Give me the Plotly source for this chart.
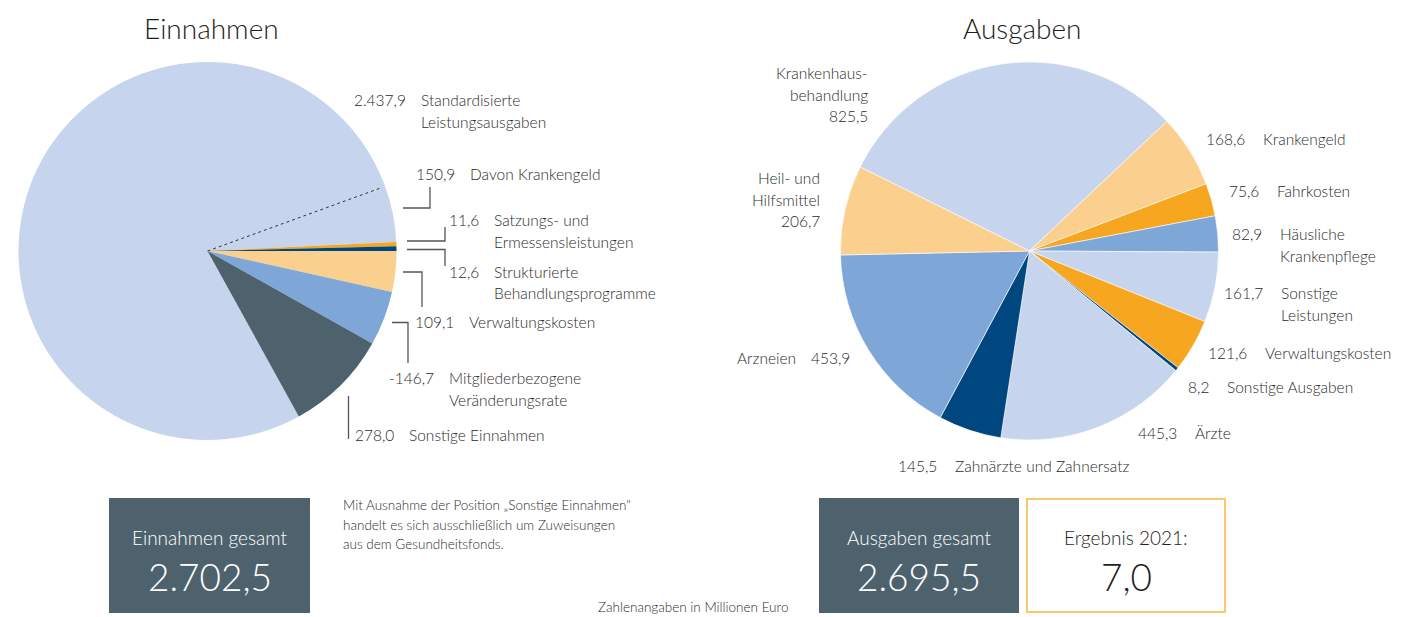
import math
import plotly.graph_objects as go

W, H = 1402, 617

# ---------------- data ----------------
ein_labels = ["Standardisierte\nLeistungsausgaben", "Davon Krankengeld",
              "Satzungs- und\nErmessensleistungen", "Strukturierte\nBehandlungsprogramme",
              "Verwaltungskosten", "Mitgliederbezogene\nVeränderungsrate", "Sonstige Einnahmen"]
ein_values = [2437.9, 150.9, 11.6, 12.6, 109.1, -146.7, 278.0]

aus_labels = ["Krankenhaus-\nbehandlung", "Krankengeld", "Fahrkosten", "Häusliche\nKrankenpflege",
              "Sonstige\nLeistungen", "Verwaltungskosten", "Sonstige Ausgaben", "Ärzte",
              "Zahnärzte und Zahnersatz", "Arzneien", "Heil- und\nHilfsmittel"]
aus_values = [825.5, 168.6, 75.6, 82.9, 161.7, 121.6, 8.2, 445.3, 145.5, 453.9, 206.7]

ein_total = 2702.5
aus_total = 2695.5
ergebnis = 7.0

# ---------------- styles ----------------
LB, PE, OR, MB, DB, SL = "#c6d4ed", "#fbd08f", "#f6a61f", "#7ea7d8", "#00477f", "#4e626e"
ein_colors = [LB, LB, OR, DB, PE, MB, SL]
aus_colors = [LB, PE, OR, MB, LB, OR, DB, LB, DB, MB, PE]
TXT = "#2b2b2b"
FONT = "Lato"
LS = 15.5  # label font size


def de(v):
    s = f"{v:,.1f}"
    return s.replace(",", "X").replace(".", ",").replace("X", ".")


def px(x):
    return x / W


def py(y):
    return 1 - y / H


L_CX, L_CY, R = 207.5, 251.0, 189.0
R_CX, R_CY = 1029.5, 251.0
L_ROT, R_ROT = 151.1, -63.6


def dom(cx, cy, r):
    return dict(x=[px(cx - r), px(cx + r)], y=[py(cy + r), py(cy - r)])


fig = go.Figure()
fig.add_trace(go.Pie(
    values=[abs(v) for v in ein_values], labels=[l.replace("\n", " ") for l in ein_labels],
    marker=dict(colors=ein_colors, line=dict(width=0)), sort=False, direction="clockwise",
    rotation=L_ROT, textinfo="none", hoverinfo="label+value", domain=dom(L_CX, L_CY, R),
    showlegend=False))
fig.add_trace(go.Pie(
    values=aus_values, labels=[l.replace("\n", " ") for l in aus_labels],
    marker=dict(colors=aus_colors, line=dict(width=0.6, color="white")), sort=False,
    direction="clockwise", rotation=R_ROT, textinfo="none", hoverinfo="label+value",
    domain=dom(R_CX, R_CY, R), showlegend=False))

shapes = []
ann = []

# dashed line separating "Davon Krankengeld" from the rest
tot = sum(abs(v) for v in ein_values)
theta = math.radians(90 - L_ROT - 360 * abs(ein_values[0]) / tot)
ex, ey = L_CX + R * 0.985 * math.cos(theta), L_CY - R * 0.985 * math.sin(theta)
shapes.append(dict(type="line", xref="paper", yref="paper", x0=px(L_CX), y0=py(L_CY),
                   x1=px(ex), y1=py(ey), line=dict(color="#333", width=1, dash="3px,3px")))


def text(x, y, s, size=LS, anchor="left", color=TXT, weight=300):
    ann.append(dict(x=px(x), y=py(y), xref="paper", yref="paper", text=s, showarrow=False,
                    xanchor=anchor, yanchor="middle",
                    font=dict(family=FONT, size=size, color=color, weight=weight)))


LH = 21.5
# left labels: (label left x, first line y)
ein_pos = [(419, 100), (468, 174), (492, 220), (492, 271.5), (467, 322), (447, 378.5), (407, 435)]
for lab, v, (x, y) in zip(ein_labels, ein_values, ein_pos):
    text(x - 11, y, de(v), anchor="right")
    for i, line in enumerate(lab.split("\n")):
        text(x, y + i * LH, line)

# right labels
aus_pos = [("stack", 870, 73), ("right", 1261, 139), ("right", 1275, 191), ("right", 1278, 234),
           ("right", 1279, 293), ("right", 1263, 353), ("right", 1225, 387), ("right", 1193, 433),
           ("right", 953, 466), ("before", 798, 358), ("stack", 822, 178)]
for lab, v, (mode, x, y) in zip(aus_labels, aus_values, aus_pos):
    lines = lab.split("\n")
    if mode == "stack":
        for i, line in enumerate(lines + [de(v)]):
            text(x, y + i * LH, line, anchor="right")
    elif mode == "before":
        text(x, y, lab, anchor="right")
        text(x + 11, y, de(v), anchor="left")
    else:
        text(x - 14.5, y, de(v), anchor="right")
        for i, line in enumerate(lines):
            text(x, y + i * LH, line)

# leader lines (left chart)
leaders = [
    [(403, 208), (430, 208), (430, 187)],
    [(407, 241), (445, 241), (445, 227)],
    [(407, 249.5), (445, 249.5), (445, 266)],
    [(403, 272), (422, 272), (422, 307)],
    [(392, 322.5), (408, 322.5), (408, 363)],
    [(348.5, 396), (348.5, 439)],
]
for pts in leaders:
    path = "M " + " L ".join(f"{px(a):.5f},{py(b):.5f}" for a, b in pts)
    shapes.append(dict(type="path", xref="paper", yref="paper", path=path,
                       line=dict(color="#555", width=1.3)))

# titles
text(211, 28, "Einnahmen", size=28, anchor="center", color="#1e1e1e")
text(1022, 28, "Ausgaben", size=28, anchor="center", color="#1e1e1e")

# boxes
shapes.append(dict(type="rect", xref="paper", yref="paper", x0=px(109), x1=px(310), y0=py(613), y1=py(498),
                   fillcolor=SL, line=dict(width=0), layer="below"))
shapes.append(dict(type="rect", xref="paper", yref="paper", x0=px(819), x1=px(1019), y0=py(613), y1=py(498),
                   fillcolor=SL, line=dict(width=0), layer="below"))
shapes.append(dict(type="rect", xref="paper", yref="paper", x0=px(1027), x1=px(1225), y0=py(612), y1=py(499),
                   fillcolor="white", line=dict(width=2, color="#fbc870"), layer="below"))
text(209.5, 537, "Einnahmen gesamt", size=19, anchor="center", color="white")
text(209.5, 576, de(ein_total), size=37, anchor="center", color="white")
text(919, 537, "Ausgaben gesamt", size=19, anchor="center", color="white")
text(919, 576, de(aus_total), size=37, anchor="center", color="white")
text(1126, 537, "Ergebnis 2021:", size=19, anchor="center", color="#1e1e1e")
text(1126, 576, de(ergebnis), size=37, anchor="center", color="#1e1e1e")

# notes
note = ["Mit Ausnahme der Position „Sonstige Einnahmen\"",
        "handelt es sich ausschließlich um Zuweisungen",
        "aus dem Gesundheitsfonds."]
for i, line in enumerate(note):
    text(341, 505 + i * 19.5, line, size=13.5)
text(692.5, 607, "Zahlenangaben in Millionen Euro", size=13.5, anchor="center")

fig.update_layout(width=W, height=H, margin=dict(l=0, r=0, t=0, b=0),
                  paper_bgcolor="white", plot_bgcolor="white",
                  shapes=shapes, annotations=ann, font=dict(family=FONT, color=TXT))
fig.write_html("out.html", config={"displayModeBar": False},
               post_script="document.body.style.margin='0';document.body.style.overflow='hidden';")
